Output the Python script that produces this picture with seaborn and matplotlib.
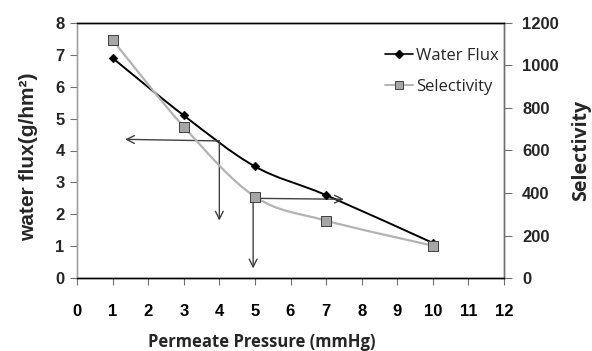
import numpy as np
import pandas as pd
import matplotlib
matplotlib.use("Agg")
import matplotlib.pyplot as plt
import seaborn as sns
from matplotlib.path import Path
from matplotlib.patches import PathPatch
from matplotlib.lines import Line2D

pressure = [1, 3, 5, 7, 10]
water_flux = [6.9, 5.1, 3.5, 2.6, 1.1]
selectivity = [1120, 712, 383, 270, 152]
x_ticks = list(range(0, 13))
flux_ticks = list(range(0, 9))
sel_ticks = [0, 200, 400, 600, 800, 1000, 1200]

sns.set_theme(style="white")
plt.rcParams['font.family'] = ['Liberation Sans', 'DejaVu Sans']

df = pd.DataFrame({"pressure": pressure, "flux": water_flux, "sel": selectivity})

fig = plt.figure(figsize=(5.92, 3.51), dpi=100)
ax = fig.add_axes([77/592, 1 - 278/351, (504-77)/592, (278-23)/351])
ax2 = ax.twinx()


def smooth_path(xs, ys):
    pts = np.column_stack([xs, ys]).astype(float)
    n = len(pts)
    verts = [pts[0]]
    codes = [Path.MOVETO]
    for i in range(n - 1):
        p0 = pts[i - 1] if i > 0 else pts[i]
        p1 = pts[i]
        p2 = pts[i + 1]
        p3 = pts[i + 2] if i + 2 < n else pts[i + 1]
        c1 = p1 + (p2 - p0) / 6.0
        c2 = p2 - (p3 - p1) / 6.0
        verts += [c1, c2, p2]
        codes += [Path.CURVE4] * 3
    return Path(verts, codes)


# Water flux (left axis)
ax.add_patch(PathPatch(smooth_path(df["pressure"], df["flux"]), fc="none", ec="black", lw=1.4, zorder=3))
sns.scatterplot(data=df, x="pressure", y="flux", ax=ax, marker="D", s=20, color="black",
                edgecolor="black", zorder=4, legend=False)

# Selectivity (right axis)
ax2.add_patch(PathPatch(smooth_path(df["pressure"], df["sel"]), fc="none", ec="#b3b3b3", lw=1.6, zorder=2))
sns.scatterplot(data=df, x="pressure", y="sel", ax=ax2, marker="s", s=48, color="#a6a6a6",
                edgecolor="#404040", linewidth=0.7, zorder=3, legend=False)

# Arrows
arrow_kw = dict(arrowstyle="->", color="#404040", lw=1.0, mutation_scale=14, shrinkA=0, shrinkB=0)
ax.annotate("", xy=(1.35, 4.35), xytext=(4.0, 4.3), arrowprops=arrow_kw)
ax.annotate("", xy=(4.0, 1.8), xytext=(4.0, 4.3), arrowprops=arrow_kw)
ax.annotate("", xy=(4.95, 0.3), xytext=(4.95, 2.5), arrowprops=arrow_kw)
ax.annotate("", xy=(7.5, 2.47), xytext=(4.95, 2.5), arrowprops=arrow_kw)

ax.set_xlim(0, 12)
ax.set_ylim(0, 8)
ax2.set_ylim(0, 1200)
ax.set_xticks(x_ticks)
ax.set_yticks(flux_ticks)
ax2.set_yticks(sel_ticks)

tick_font = dict(fontsize=12, fontweight="bold")
ax.set_xticklabels([str(t) for t in x_ticks], **tick_font)
ax.set_yticklabels([str(t) for t in flux_ticks], **tick_font)
ax2.set_yticklabels([str(t) for t in sel_ticks], **tick_font)

for a in (ax, ax2):
    a.set_xlabel("")
    a.set_ylabel("")
    a.grid(False)
    for s in a.spines.values():
        s.set_linewidth(1.0)
    a.spines["top"].set_color("black")
    a.spines["bottom"].set_color("black")
    a.spines["left"].set_color("#a0a0a0")
    a.spines["right"].set_color("#707070")

ax.tick_params(axis="x", which="major", bottom=True, direction="out", length=5, width=0.8,
               color="#707070", pad=14, colors="black")
ax.tick_params(axis="y", which="major", left=True, direction="out", length=5, width=0.8,
               color="#707070", pad=4)
ax2.tick_params(axis="y", which="major", right=True, direction="out", length=6, width=0.8,
                color="#707070", pad=7)

ax.set_xlabel("Permeate Pressure (mmHg)", fontsize=12, fontweight="bold",
              family=["Open Sans", "DejaVu Sans"])
ax.xaxis.set_label_coords(0.433, -0.215)
ax.set_ylabel("water flux(g/hm²)", fontsize=15, fontweight="bold",
              family=["Liberation Sans", "DejaVu Sans"])
ax.yaxis.set_label_coords(-0.091, 0.474)
ax2.set_ylabel("Selectivity", fontsize=14, fontweight="bold",
               family=["Open Sans", "DejaVu Sans"], labelpad=9)

handles = [
    Line2D([0], [0], color="black", lw=1.2, marker="D", markersize=4, markerfacecolor="black"),
    Line2D([0], [0], color="#b3b3b3", lw=1.4, marker="s", markersize=6,
           markerfacecolor="#a6a6a6", markeredgecolor="#404040", markeredgewidth=0.7),
]
leg = ax2.legend(handles, ["Water Flux", "Selectivity"], loc="upper right",
                 bbox_to_anchor=(1.022, 0.96), frameon=False,
                 prop={"family": "Open Sans", "size": 12}, handlelength=1.7,
                 handletextpad=0.15, labelspacing=0.9)

fig.savefig("out.png", dpi=100)
